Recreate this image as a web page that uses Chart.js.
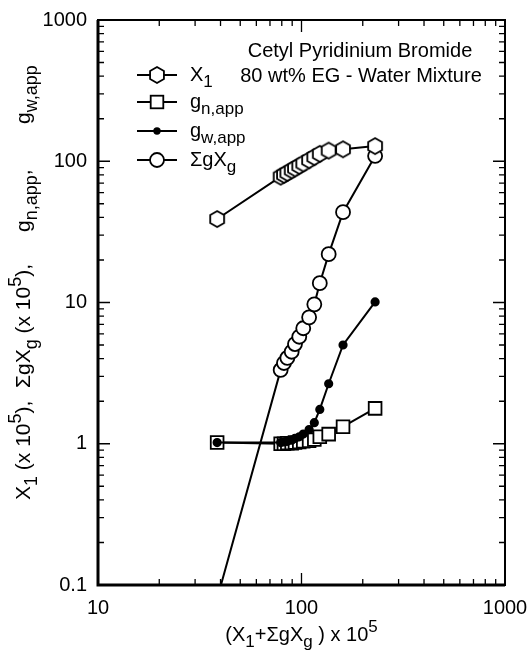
<!DOCTYPE html>
<html>
<head>
<meta charset="utf-8">
<script src="https://cdn.jsdelivr.net/npm/chart.js@4.4.1/dist/chart.umd.min.js"></script>
<style>
  html, body { margin: 0; padding: 0; background: #fff; }
  canvas { display: block; }
</style>
</head>
<body>
<canvas id="c" width="529" height="652"></canvas>
<script>
// ---- data ----
const xValues = [38.5, 79, 82, 85.2, 89.5, 92.9, 97.5, 102, 109, 115.6, 123, 136, 160, 230];
const x1Values = [39.0, 77.8, 80.2, 82.8, 86.3, 89.1, 92.7, 96.4, 101.8, 107, 112.8, 119, 121.6, 128];
const gnValues = [1.02, 1.00, 1.00, 1.01, 1.01, 1.02, 1.03, 1.04, 1.05, 1.07, 1.12, 1.17, 1.32, 1.78];
const gwValues = [1.02, 1.02, 1.03, 1.04, 1.06, 1.09, 1.12, 1.17, 1.26, 1.41, 1.75, 2.66, 5.0, 10.1];
const sgxValues = [0.08, 3.33, 3.73, 4.05, 4.48, 5.08, 5.72, 6.57, 7.85, 9.7, 13.7, 22, 43.6, 109];
const xTickLabels = [10, 100, 1000];
const yTickLabels = [0.1, 1, 10, 100, 1000];

const FAMILY = '"Liberation Sans", Arial, Helvetica, sans-serif';
const FS = 20;
const SUB = 0.85;

function hexCanvas(r, lw) {
  const s = Math.ceil(2 * r + lw * 2 + 2);
  const c = document.createElement('canvas');
  c.width = s; c.height = s;
  const g = c.getContext('2d');
  g.translate(s / 2, s / 2);
  g.beginPath();
  for (let i = 0; i < 6; i++) {
    const a = -Math.PI / 2 + i * Math.PI / 3;
    g.lineTo(r * Math.cos(a), r * Math.sin(a));
  }
  g.closePath();
  g.fillStyle = '#fff'; g.fill();
  g.lineWidth = lw; g.strokeStyle = '#000'; g.stroke();
  return c;
}
const hex = hexCanvas(8, 1.8);

function pts(vals) { return xValues.map((x, i) => ({ x: x, y: vals[i] })); }

function segFont(s, size) {
  const k = s.k || 'n';
  return (k === 'n' ? size : Math.round(size * SUB)) + 'px ' + FAMILY;
}
function richWidth(ctx, segs, size) {
  let w = 0;
  for (const s of segs) { ctx.font = segFont(s, size); w += ctx.measureText(s.t).width; }
  return w;
}
function drawRich(ctx, segs, x, y, size) {
  for (const s of segs) {
    ctx.font = segFont(s, size);
    const dy = s.k === 'sub' ? size * 0.32 : (s.k === 'sup' ? -size * 0.45 : 0);
    ctx.fillText(s.t, x, y + dy);
    x += ctx.measureText(s.t).width;
  }
  return x;
}

function isPow10(v) {
  const l = Math.log10(v);
  return Math.abs(l - Math.round(l)) < 1e-6;
}
function fmt(v) {
  const r = Math.pow(10, Math.round(Math.log10(v)));
  return r >= 1 ? String(Math.round(r)) : r.toFixed(1);
}

const decor = {
  id: 'decor',
  afterDraw(chart) {
    const ctx = chart.ctx;
    const xs = chart.scales.x, ys = chart.scales.y;
    const { left, right, top, bottom } = chart.chartArea;
    ctx.save();
    ctx.strokeStyle = '#000';
    ctx.fillStyle = '#000';
    // ticks inward
    ctx.lineWidth = 1.3;
    ctx.beginPath();
    const xDec = [10, 100];
    for (const d of xDec) {
      for (let m = 1; m <= 9; m++) {
        const px = xs.getPixelForValue(d * m);
        const len = m === 1 ? 12 : 6;
        ctx.moveTo(px, bottom); ctx.lineTo(px, bottom - len);
        ctx.moveTo(px, top); ctx.lineTo(px, top + len);
      }
    }
    const yDec = [0.1, 1, 10, 100];
    for (const d of yDec) {
      for (let m = 1; m <= 9; m++) {
        const py = ys.getPixelForValue(d * m);
        const len = m === 1 ? 12 : 6;
        ctx.moveTo(left, py); ctx.lineTo(left + len, py);
        ctx.moveTo(right, py); ctx.lineTo(right - len, py);
      }
    }
    ctx.stroke();
    // frame
    ctx.lineWidth = 2;
    ctx.strokeRect(left, top, right - left, bottom - top);
    ctx.lineWidth = 3;
    ctx.beginPath();
    ctx.moveTo(left, top); ctx.lineTo(left, bottom); ctx.lineTo(right, bottom);
    ctx.stroke();

    // annotation
    ctx.textBaseline = 'alphabetic';
    ctx.font = FS + 'px ' + FAMILY;
    ctx.textAlign = 'center';
    ctx.fillText('Cetyl Pyridinium Bromide', 360, 57);
    ctx.fillText('80 wt% EG - Water Mixture', 361, 82);
    ctx.textAlign = 'left';

    // legend
    const rows = [75, 102, 131, 160];
    const lx0 = 137, lx1 = 177, mx = 157, tx = 190;
    ctx.lineWidth = 2;
    rows.forEach((ry, i) => {
      ctx.beginPath(); ctx.moveTo(lx0, ry); ctx.lineTo(lx1, ry); ctx.stroke();
      ctx.lineWidth = 1.8;
      if (i === 0) {
        ctx.drawImage(hex, mx - hex.width / 2, ry - hex.height / 2);
      } else if (i === 1) {
        ctx.fillStyle = '#fff';
        ctx.fillRect(mx - 6.3, ry - 6.3, 12.6, 12.6);
        ctx.strokeRect(mx - 6.3, ry - 6.3, 12.6, 12.6);
        ctx.fillStyle = '#000';
      } else if (i === 2) {
        ctx.beginPath(); ctx.arc(mx, ry, 3.7, 0, Math.PI * 2); ctx.fill();
      } else {
        ctx.beginPath(); ctx.arc(mx, ry, 7, 0, Math.PI * 2);
        ctx.fillStyle = '#fff'; ctx.fill(); ctx.stroke(); ctx.fillStyle = '#000';
      }
      ctx.lineWidth = 2;
    });
    const legendTexts = [
      [{ t: 'X' }, { t: '1', k: 'sub' }],
      [{ t: 'g' }, { t: 'n,app', k: 'sub' }],
      [{ t: 'g' }, { t: 'w,app', k: 'sub' }],
      [{ t: '\u03A3gX' }, { t: 'g', k: 'sub' }]
    ];
    legendTexts.forEach((segs, i) => drawRich(ctx, segs, tx, rows[i] + 6, FS));

    // x axis title
    const xt = [{ t: '(X' }, { t: '1', k: 'sub' }, { t: '+\u03A3gX' }, { t: 'g', k: 'sub' },
                { t: ' ) x 10' }, { t: '5', k: 'sup' }];
    const xw = richWidth(ctx, xt, FS);
    drawRich(ctx, xt, (left + right) / 2 - xw / 2, 641, FS);

    // y axis title (rotated)
    const YFS = 21;
    ctx.save();
    ctx.translate(30, 0);
    ctx.rotate(-Math.PI / 2);
    const items = [
      { start: 500, segs: [{ t: 'X' }, { t: '1', k: 'sub' }, { t: ' (x 10' }, { t: '5', k: 'sup' }, { t: '),' }] },
      { start: 388, segs: [{ t: '\u03A3gX' }, { t: 'g', k: 'sub' }, { t: ' (x 10' }, { t: '5', k: 'sup' }, { t: '),' }] },
      { start: 232, segs: [{ t: 'g' }, { t: 'n,app', k: 'sub' }, { t: ',' }] },
      { start: 124, segs: [{ t: 'g' }, { t: 'w,app', k: 'sub' }] }
    ];
    for (const it of items) drawRich(ctx, it.segs, -it.start, 0, YFS);
    ctx.restore();

    ctx.restore();
  }
};

const common = {
  showLine: true,
  borderColor: '#000',
  borderWidth: 2,
  tension: 0,
  pointBorderColor: '#000',
  pointBackgroundColor: '#fff',
  pointBorderWidth: 1.8,
  fill: false
};

new Chart(document.getElementById('c'), {
  type: 'line',
  data: {
    datasets: [
      Object.assign({}, common, { label: 'gw,app', data: pts(gwValues), pointStyle: 'circle', pointRadius: 3.7, pointBackgroundColor: '#000', order: 0 }),
      Object.assign({}, common, { label: 'gn,app', data: pts(gnValues), pointStyle: 'rect', pointRadius: 9, order: 1 }),
      Object.assign({}, common, { label: 'X1', data: pts(x1Values), pointStyle: hex, pointRadius: 8, order: 2 }),
      Object.assign({}, common, { label: 'SgXg', data: pts(sgxValues), pointStyle: 'circle', pointRadius: 7, order: 3, clip: 0 })
    ]
  },
  options: {
    responsive: false,
    animation: false,
    devicePixelRatio: 1,
    layout: { padding: { top: 20, right: 24, left: 0, bottom: 0 } },
    plugins: { legend: { display: false }, tooltip: { enabled: false } },
    scales: {
      x: {
        type: 'logarithmic', min: 10, max: 1000,
        grid: { display: false, drawTicks: false },
        border: { display: false },
        ticks: {
          autoSkip: false, maxRotation: 0, padding: 11, color: '#000',
          font: { family: FAMILY, size: FS },
          callback: (v) => isPow10(v) && xTickLabels.includes(Math.round(v)) ? fmt(v) : ''
        },
        afterFit: (s) => { s.height = 67; s.paddingLeft = 0; s.paddingRight = 0; }
      },
      y: {
        type: 'logarithmic', min: 0.1, max: 1000,
        grid: { display: false, drawTicks: false },
        border: { display: false },
        ticks: {
          autoSkip: false, padding: 11, color: '#000',
          font: { family: FAMILY, size: FS },
          callback: (v) => isPow10(v) && yTickLabels.some(t => Math.abs(t - v) / t < 1e-6) ? fmt(v) : ''
        },
        afterFit: (s) => { s.width = 98; s.paddingTop = 0; s.paddingBottom = 0; }
      }
    }
  },
  plugins: [decor]
});
</script>
</body>
</html>
